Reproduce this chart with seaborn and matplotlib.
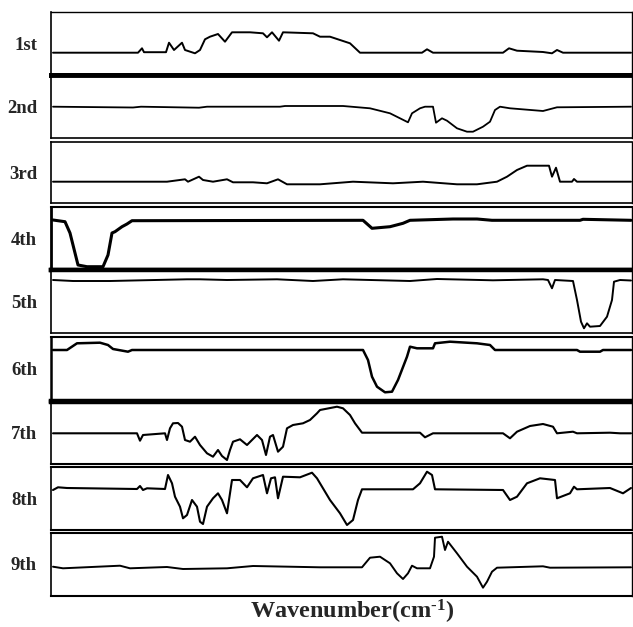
# ==============================
# 九组光谱堆叠图 (Wavenumber)
# ==============================
import matplotlib
matplotlib.use('Agg')
import matplotlib.pyplot as plt
import seaborn as sns
import pandas as pd

# 每条谱线的读数：x 为通道位置，y 为相对基线的信号
x_1st = [2, 87, 91, 93, 115, 118, 123, 131, 134, 144, 149, 154, 159, 167, 174, 181, 199, 212, 216, 221,
         228, 232, 262, 269, 279, 299, 309, 371, 376, 382, 452, 458, 466, 492, 501, 506, 512, 580]
y_1st = [0, 0, 4.4, 0.5, 0.5, 10, 2.7, 10, 2.7, -0.6, 2.7, 13.4, 16, 18.7, 11, 20.4, 20.4, 19.4, 15.4, 20.4,
         12, 20.4, 19.4, 16, 16, 9.4, 0, 0, 3.4, 0, 0, 4.4, 2, 0.7, -0.6, 2.7, 0, 0]

x_2nd = [2, 82, 90, 148, 156, 229, 234, 292, 319, 339, 357, 361, 369, 374, 382, 385, 391, 396, 406, 416,
         422, 432, 439, 444, 449, 459, 492, 506, 580]
y_2nd = [0, -0.8, 0, -1, 0, 0, 0.7, 0.7, -1.6, -6.6, -15.6, -6.6, -1.6, 0, 0, -16, -11.6, -14, -21.6, -25,
         -25, -20, -15, -3.3, 0, -1.6, -4.3, -0.6, 0]

x_3rd = [2, 116, 134, 137, 148, 152, 162, 176, 182, 202, 216, 227, 236, 269, 302, 342, 372, 406, 426, 446,
         456, 466, 476, 492, 498, 501, 505, 509, 521, 523, 526, 580]
y_3rd = [0, 0, 2.4, 0, 5, 1.7, 0, 2.4, -0.6, -0.6, -1.6, 2.4, -2.6, -2.6, 0, -1.6, 0, -2.6, -2.6, 0,
         5, 11.7, 16, 16, 16, 5, 14, 0, 0, 2.7, 0, 0]

x_4th = [2, 14, 19, 27, 36, 52, 57, 61, 64, 71, 76, 81, 312, 321, 339, 352, 359, 402, 426, 441, 529, 532, 580]
y_4th = [0.3, -1.4, -12.7, -44.7, -46.4, -46.4, -34.7, -12.7, -11.4, -6.4, -3.7, -0.4, 0, -8, -6.4, -3, 0,
         1.3, 1.3, 0, 0, 1, 0]

x_5th = [2, 22, 59, 136, 149, 176, 226, 262, 292, 359, 386, 442, 492, 497, 501, 504, 522, 526, 530, 533,
         536, 539, 549, 556, 561, 563, 569, 580]
y_5th = [0.5, -0.5, -0.5, 1.2, 1.2, 0.5, 1.2, -0.5, 1.2, -0.5, 1.5, 0.2, 1.2, 0.5, -7.8, 0.5, -0.5, -19.5,
         -41.2, -47.8, -42.8, -46.2, -45.5, -36.2, -19.5, -1.2, 0.5, 0]

x_6th = [2, 16, 26, 49, 57, 62, 77, 81, 312, 317, 321, 326, 334, 341, 347, 356, 359, 366, 382, 384, 399,
         426, 439, 444, 526, 529, 549, 552, 580]
y_6th = [0, 0, 6.7, 7.3, 5, 1, -1.7, 0, 0, -10, -26.7, -36.7, -42.3, -41.7, -30, -6.7, 3.3, 1.7, 1.7, 6.7,
         8.3, 6.7, 5, 0, 0, -1.7, -1.7, 0, 0]

x_7th = [2, 86, 89, 92, 114, 116, 119, 122, 127, 131, 134, 139, 144, 149, 156, 162, 167, 171, 176, 179,
         182, 189, 196, 206, 211, 215, 219, 222, 227, 232, 236, 242, 252, 259, 266, 269, 286, 292, 299, 304,
         311, 369, 374, 382, 452, 459, 466, 479, 492, 502, 506, 522, 526, 559, 569, 580]
y_7th = [0, 0, -7.4, -1.7, 0, -6.7, 5, 10, 10.3, 6.6, -6.7, -8.4, -3.4, -11.7, -20, -23.4, -16.7, -22.7,
         -26.7, -16.7, -8.4, -6, -11.7, -1.7, -6.7, -21.7, -3.4, -1.7, -18.4, -13.4, 5, 8.3, 10, 13.3, 20,
         23.3, 26.6, 25, 18.3, 10, 0.6, 0.6, -4, 0, 0, -5, 1.6, 7.3, 9.3, 6.6, 0, 1.6, 0, 0.6, 0, 0]

x_8th = [2, 7, 16, 86, 89, 92, 96, 114, 117, 121, 124, 129, 132, 136, 141, 146, 149, 152, 156, 162, 167,
         171, 176, 181, 189, 196, 202, 212, 216, 220, 224, 227, 232, 249, 261, 266, 269, 279, 289, 296, 302,
         307, 311, 362, 369, 376, 381, 384, 452, 459, 466, 476, 489, 504, 506, 519, 523, 526, 559, 572, 577, 580]
y_8th = [-0.7, 2, 1.3, 0.3, 3.3, -0.7, 1, 0.3, 14.3, 6, -7.4, -17.4, -29, -25.7, -10.7, -17.4, -32.4,
         -34.7, -17.4, -9, -4, -10.7, -24, 9.3, 9.3, 2, 11, 14.3, -4, 11, 12, -9, 12.6, 12, 16.6, 11, 6,
         -10.7, -24, -35.7, -30.7, -10.7, 0, 0, 6, 17.6, 14.3, 0, -0.7, -10.7, -7.4, 6, 11, 9.3, -9, -4,
         2.6, 0, 1.3, -4, -0.7, 1.3]

x_9th = [2, 12, 69, 79, 116, 132, 176, 202, 269, 311, 319, 329, 339, 346, 352, 357, 361, 366, 379, 383,
         384, 391, 394, 397, 406, 416, 426, 432, 436, 441, 446, 492, 499, 580]
y_9th = [0.6, -1, 1.6, -1, 0.3, -1.7, -1, 1.3, 0, 0, 9.6, 10.6, 4, -6, -11.7, -6, 1.6, -1, -1, 10.6,
         29.6, 30.6, 17.3, 25.6, 14, 0.6, -9.4, -20.4, -14.4, -4.4, -0.4, 1, -0.4, 0]

labels = ['1st', '2nd', '3rd', '4th', '5th', '6th', '7th', '8th', '9th']
xs = [x_1st, x_2nd, x_3rd, x_4th, x_5th, x_6th, x_7th, x_8th, x_9th]
ys = [y_1st, y_2nd, y_3rd, y_4th, y_5th, y_6th, y_7th, y_8th, y_9th]

# 版面：每个子图的上下像素边界、y 轴范围、边框粗细
W, H = 633, 627
panel_top = [12, 75, 141.5, 207, 270, 337, 402, 466.5, 532.5]
panel_bot = [75, 138, 203, 270, 333, 401, 464, 530, 595.5]
ylims = [(-22.3, 40.7), (-31.3, 31.7), (-21.3, 40.2), (-49.7, 13.3), (-52.5, 10.5),
         (-51, 13), (-30.7, 31.3), (-40.7, 22.8), (-28.2, 34.8)]
spine_top = [1.0, 3.5, 1.2, 1.5, 3.2, 1.5, 3.2, 1.5, 1.5]
spine_bot = [3.5, 1.2, 1.2, 3.2, 1.2, 3.2, 1.5, 1.5, 1.5]
spine_left = [1.2, 1.2, 1.2, 2.0, 1.2, 1.8, 1.2, 1.2, 1.2]
line_w = [1.4, 1.3, 1.4, 2.2, 1.4, 1.8, 1.5, 1.5, 1.4]

sns.set_style('white')
plt.rcParams['font.family'] = ['Liberation Serif', 'DejaVu Serif']
plt.rcParams['mathtext.fontset'] = 'custom'
plt.rcParams['mathtext.rm'] = 'Liberation Serif:bold'
plt.rcParams['mathtext.default'] = 'rm'

fig = plt.figure(figsize=(W / 100, H / 100), dpi=100)
left, width = 51 / W, 581 / W

for i in range(9):
    b = 1 - panel_bot[i] / H
    h = (panel_bot[i] - panel_top[i]) / H
    ax = fig.add_axes([left, b, width, h])
    df = pd.DataFrame({'x': xs[i], 'y': ys[i]})
    sns.lineplot(x='x', y='y', data=df, ax=ax, color='black', linewidth=line_w[i], sort=False)
    ax.set_xlim(0, 581)
    ax.set_ylim(*ylims[i])
    ax.set_xticks([])
    ax.set_yticks([])
    ax.set_xlabel('')
    ax.set_ylabel('')
    for side, lw in [('top', spine_top[i]), ('bottom', spine_bot[i]),
                     ('left', spine_left[i]), ('right', 1.0)]:
        ax.spines[side].set_visible(True)
        ax.spines[side].set_color('black')
        ax.spines[side].set_linewidth(lw)
    fig.text(37 / W, b + h * 0.47, labels[i], ha='right', va='center',
             fontsize=13.5, fontweight='bold')

# 横轴标题（上标用短横线）
fig.text(352 / W, 0.002, 'Wavenumber(cm$^{\u2010 1}$)', ha='center', va='bottom',
         fontsize=17.5, fontweight='bold')

plt.savefig('out.png', dpi=100)
